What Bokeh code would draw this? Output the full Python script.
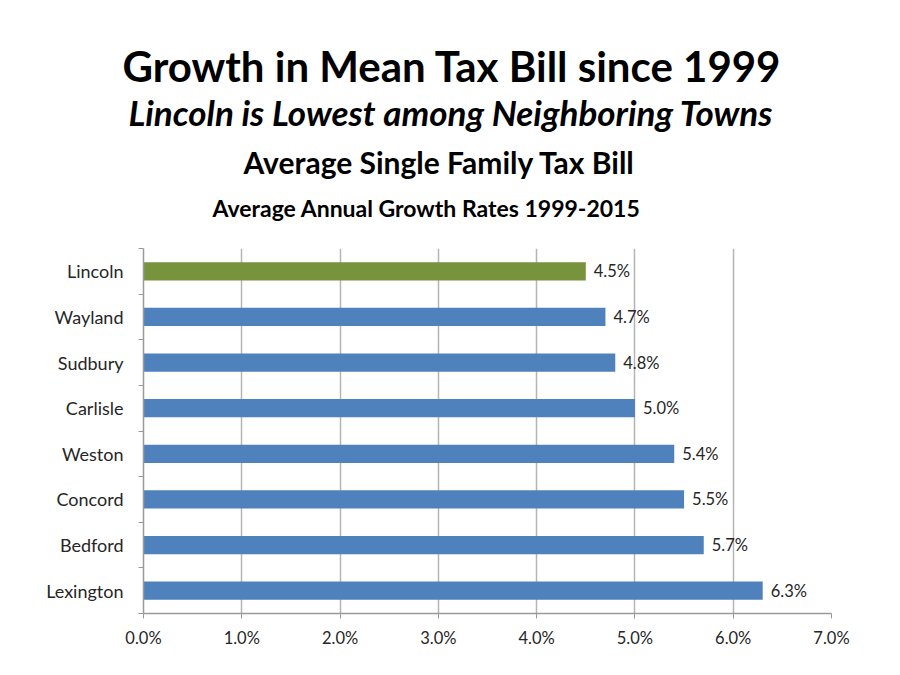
from bokeh.plotting import figure
from bokeh.models import Range1d, FixedTicker, PrintfTickFormatter, Title, ColumnDataSource
from bokeh.embed import file_html
from bokeh.resources import INLINE
from bokeh.core.properties import value

# Data (bottom to top)
towns = ["Lexington", "Bedford", "Concord", "Weston", "Carlisle", "Sudbury", "Wayland", "Lincoln"]
growth = [6.3, 5.7, 5.5, 5.4, 5.0, 4.8, 4.7, 4.5]
x_ticks = [0, 1, 2, 3, 4, 5, 6, 7]

title_main = "Growth in Mean Tax Bill since 1999"
title_sub = "Lincoln is Lowest among Neighboring Towns"
chart_title = "Average Single Family Tax Bill"
chart_sub = "Average Annual Growth Rates 1999-2015"

FONT = "Lato"
BLUE = "#4F81BD"
GREEN = "#77933C"

pos = list(range(len(towns)))
colors = [GREEN if t == "Lincoln" else BLUE for t in towns]
labels = ["%.1f%%" % g for g in growth]
src = ColumnDataSource(dict(y=pos, v=growth, c=colors, lab=labels))

p = figure(width=900, height=675, output_backend="svg", toolbar_location=None,
           x_range=Range1d(0, 7), y_range=Range1d(-0.5, 7.5),
           min_border_left=143, min_border_right=69, min_border_top=248,
           min_border_bottom=62)
p.outline_line_color = None
p.background_fill_color = "white"
p.border_fill_color = "white"

p.hbar(y="y", right="v", left=0, height=0.4, fill_color="c", line_color=None, source=src)
p.text(x="v", y="y", text="lab", source=src, x_offset=8, text_baseline="middle",
       text_align="left", text_font=value(FONT), text_font_size="16.5px", text_color="#262626")

# x axis
p.xaxis.ticker = FixedTicker(ticks=x_ticks)
p.xaxis.formatter = PrintfTickFormatter(format="%.1f%%")
p.xaxis.axis_line_color = "#9a9a9a"
p.xaxis.axis_line_width = 1.5
p.xaxis.major_tick_line_color = "#9a9a9a"
p.xaxis.major_tick_out = 5
p.xaxis.major_tick_in = 0
p.xaxis.minor_tick_line_color = None
p.xaxis.major_label_text_font = FONT
p.xaxis.major_label_text_font_size = "16.5px"
p.xaxis.major_label_text_color = "#262626"
p.xaxis.major_label_standoff = 9

# y axis
p.yaxis.ticker = FixedTicker(ticks=pos, minor_ticks=[i - 0.5 for i in range(len(towns) + 1)])
p.yaxis.major_label_overrides = {i: t for i, t in enumerate(towns)}
p.yaxis.axis_line_color = "#9a9a9a"
p.yaxis.axis_line_width = 1.5
p.yaxis.major_tick_line_color = None
p.yaxis.minor_tick_line_color = "#9a9a9a"
p.yaxis.minor_tick_out = 5
p.yaxis.minor_tick_in = 0
p.yaxis.major_label_text_font = FONT
p.yaxis.major_label_text_font_size = "18px"
p.yaxis.major_label_text_color = "#262626"
p.yaxis.major_label_standoff = 14

p.xgrid.ticker = FixedTicker(ticks=x_ticks[1:])
p.xgrid.grid_line_color = "#b5b5b5"
p.xgrid.grid_line_width = 1.5
p.ygrid.grid_line_color = None

# titles stacked above the frame (first added = closest to the frame)
for txt, off, size, style, standoff in [
    (chart_sub, 212 - 143, "23px", "bold", 52.6),
    (chart_title, 243 - 143, "30px", "bold", -29.8),
    (title_sub, 128 - 143, "35px", "bold italic", 49.1),
    (title_main, 122 - 143, "42px", "bold", -52),
]:
    p.add_layout(Title(text=txt, align="left", offset=off, standoff=standoff,
                       text_font=FONT, text_font_size=size, text_font_style=style,
                       text_color="black"), "above")

open("out.html", "w").write(file_html(p, INLINE))
